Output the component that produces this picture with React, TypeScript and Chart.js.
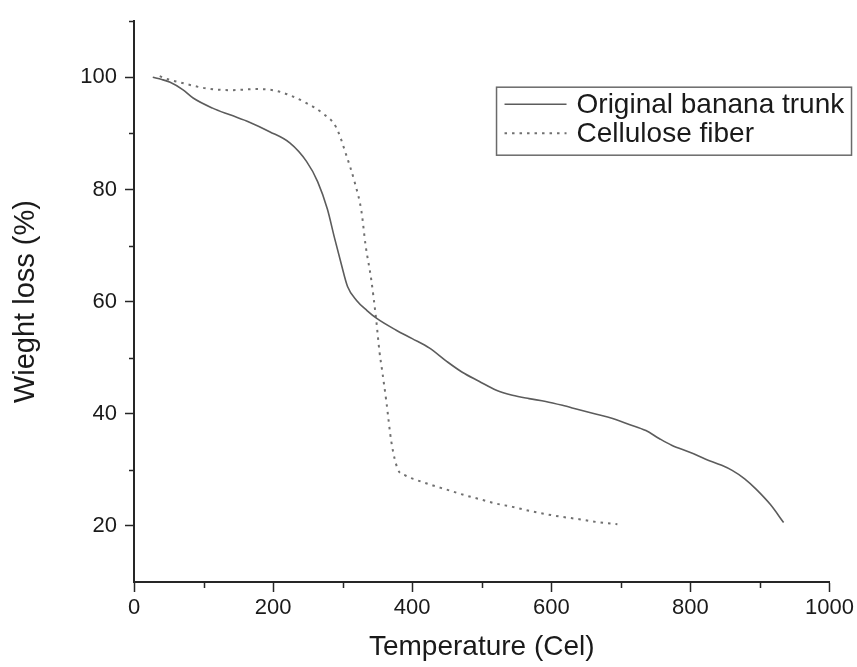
import React, { useEffect, useRef } from "react";
import { Chart, registerables } from "chart.js";

Chart.register(...registerables);

// ---- Data ----
const bananaTemp = [
  27, 40, 52, 70, 85, 113, 138, 166, 195, 224, 248, 264, 278, 288, 298, 307,
  320, 335, 349, 377, 400, 425, 450, 472, 496, 521, 544, 568, 592, 616, 640,
  665, 687, 712, 736, 755, 773, 800, 822, 845, 860, 878, 894, 915, 934,
];
const bananaWeight = [
  100, 99.6, 99.1, 97.8, 96.3, 94.5, 93.3, 92.0, 90.3, 88.3, 85.0, 81.4, 76.5,
  71.5, 66.7, 62.7, 60.2, 58.4, 57.0, 54.9, 53.4, 51.7, 49.3, 47.4, 45.8, 44.2,
  43.3, 42.7, 42.2, 41.5, 40.7, 39.9, 39.2, 38.1, 37.0, 35.6, 34.4, 33.1, 31.9,
  30.8, 29.9, 28.4, 26.6, 23.8, 20.6,
];
const celluloseTemp = [
  37, 50, 66, 85, 105, 138, 176, 200, 224, 248, 271, 291, 305, 317, 327, 333,
  341, 348, 353, 357, 363, 370, 379, 390, 406, 430, 449, 475, 496, 520, 544,
  568, 592, 616, 640, 665, 695,
];
const celluloseWeight = [
  100.2, 99.6, 99.1, 98.5, 98.0, 97.7, 97.9, 97.7, 96.8, 95.4, 93.6, 91.0, 86.2,
  81.4, 76.1, 70.0, 64.0, 57.0, 51.0, 47.5, 42.0, 35.0, 30.2, 29.0, 28.2, 27.2,
  26.5, 25.5, 24.8, 24.0, 23.4, 22.7, 22.1, 21.6, 21.2, 20.7, 20.3,
];
const seriesLabels = ["Original banana trunk", "Cellulose fiber"];
const xMajorTicks = [0, 200, 400, 600, 800, 1000];
const xMinorTicks = [100, 300, 500, 700, 900];
const yMajorTicks = [20, 40, 60, 80, 100];
const yMinorTicks = [30, 50, 70, 90, 110];
const xTitle = "Temperature (Cel)";
const yTitle = "Wieght loss (%)";

const FONT = "'Liberation Sans', Arial, Helvetica, sans-serif";
const AXIS = "#262626";
const TEXT = "#1a1a1a";

const minorTicksPlugin = {
  id: "minorTicks",
  afterDraw(chart: any) {
    const { ctx, chartArea, scales } = chart;
    ctx.save();
    ctx.strokeStyle = AXIS;
    ctx.lineWidth = 1.5;
    ctx.beginPath();
    xMinorTicks.forEach((v) => {
      const px = Math.round(scales.x.getPixelForValue(v)) + 0.5;
      ctx.moveTo(px, chartArea.bottom);
      ctx.lineTo(px, chartArea.bottom + 6);
    });
    yMinorTicks.forEach((v) => {
      const py = Math.round(scales.y.getPixelForValue(v)) + 0.5;
      ctx.moveTo(chartArea.left, py);
      ctx.lineTo(chartArea.left - 5, py);
    });
    ctx.stroke();
    ctx.restore();
  },
};

const boxedLegendPlugin = {
  id: "boxedLegend",
  afterDraw(chart: any) {
    const { ctx, chartArea } = chart;
    const right = chartArea.right + 22;
    const left = right - 355;
    const top = chartArea.top + 66;
    const h = 68;
    ctx.save();
    ctx.strokeStyle = "#6a6a6a";
    ctx.lineWidth = 1.5;
    ctx.setLineDash([]);
    ctx.strokeRect(left, top, right - left, h);
    chart.data.datasets.forEach((ds: any, i: number) => {
      const y = top + 17 + i * 29;
      ctx.beginPath();
      ctx.setLineDash(ds.borderDash || []);
      ctx.strokeStyle = ds.borderColor;
      ctx.lineWidth = ds.borderWidth;
      ctx.moveTo(left + 8, y);
      ctx.lineTo(left + 70, y);
      ctx.stroke();
      ctx.setLineDash([]);
      ctx.fillStyle = TEXT;
      ctx.font = `28px ${FONT}`;
      ctx.textBaseline = "middle";
      ctx.textAlign = "left";
      ctx.fillText(ds.label, left + 80, y + 1);
    });
    ctx.restore();
  },
};

export default function App() {
  const canvasRef = useRef<HTMLCanvasElement | null>(null);

  useEffect(() => {
    if (!canvasRef.current) return;
    const bananaPts = bananaTemp.map((t, i) => ({ x: t, y: bananaWeight[i] }));
    const cellPts = celluloseTemp.map((t, i) => ({ x: t, y: celluloseWeight[i] }));

    const chart = new Chart(canvasRef.current, {
      type: "scatter",
      data: {
        datasets: [
          {
            label: seriesLabels[0],
            data: bananaPts,
            showLine: true,
            borderColor: "#5c5c5c",
            borderWidth: 1.6,
            pointRadius: 0,
            cubicInterpolationMode: "monotone",
            borderDash: [],
          },
          {
            label: seriesLabels[1],
            data: cellPts,
            showLine: true,
            borderColor: "#707070",
            borderWidth: 2,
            pointRadius: 0,
            cubicInterpolationMode: "monotone",
            borderDash: [2.5, 5],
          },
        ],
      } as any,
      options: {
        animation: false,
        responsive: false,
        devicePixelRatio: 1,
        layout: { padding: { top: 15, right: 26, left: 0, bottom: 0 } },
        plugins: {
          legend: { display: false },
          tooltip: { enabled: false },
        },
        scales: {
          x: {
            type: "linear",
            min: 0,
            max: 1000,
            afterBuildTicks: (scale: any) => {
              scale.ticks = xMajorTicks.map((v) => ({ value: v }));
            },
            afterFit: (scale: any) => {
              scale.height = 85;
            },
            ticks: {
              color: TEXT,
              font: { family: FONT, size: 22 },
              padding: 3,
              maxRotation: 0,
              autoSkip: false,
              callback: (v: any) => String(v),
            },
            grid: {
              drawOnChartArea: false,
              drawTicks: true,
              tickLength: 10,
              tickColor: AXIS,
              tickWidth: 1.5,
            },
            border: { display: true, color: AXIS, width: 2 },
            title: {
              display: true,
              text: xTitle,
              color: TEXT,
              font: { family: FONT, size: 28 },
              padding: { top: 0, bottom: 3 },
            },
          },
          y: {
            type: "linear",
            min: 10,
            max: 110,
            afterBuildTicks: (scale: any) => {
              scale.ticks = yMajorTicks.map((v) => ({ value: v }));
            },
            afterFit: (scale: any) => {
              scale.width = 134;
            },
            ticks: {
              color: TEXT,
              font: { family: FONT, size: 22 },
              padding: 8,
              autoSkip: false,
              callback: (v: any) => String(v),
            },
            grid: {
              drawOnChartArea: false,
              drawTicks: true,
              tickLength: 9,
              tickColor: AXIS,
              tickWidth: 1.5,
            },
            border: { display: true, color: AXIS, width: 2 },
            title: {
              display: true,
              text: yTitle,
              color: TEXT,
              font: { family: FONT, size: 29 },
              padding: { top: 9, bottom: 0 },
            },
          },
        },
      } as any,
      plugins: [minorTicksPlugin, boxedLegendPlugin],
    });

    return () => {
      chart.destroy();
    };
  }, []);

  return (
    <div style={{ position: "absolute", left: 0, top: 0, width: 857, height: 667, background: "#fff" }}>
      <canvas ref={canvasRef} width={857} height={667} style={{ display: "block", width: 857, height: 667 }} />
    </div>
  );
}
